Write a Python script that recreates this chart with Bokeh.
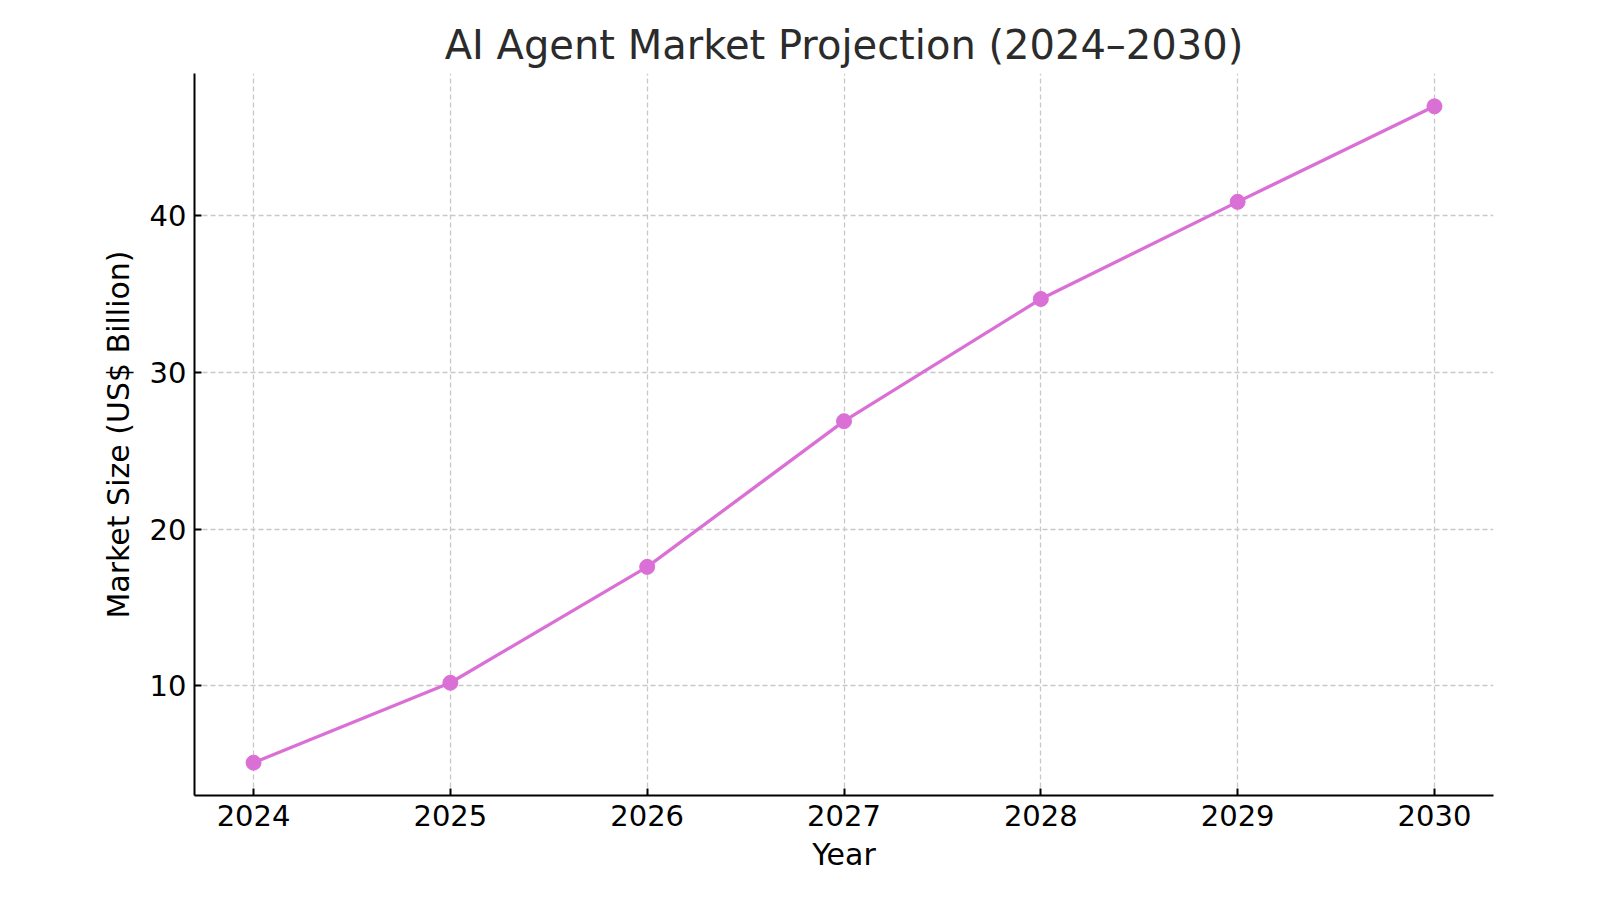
from bokeh.plotting import figure
from bokeh.models import Range1d, FixedTicker, ColumnDataSource
from bokeh.embed import file_html
from bokeh.resources import INLINE

years = [2024, 2025, 2026, 2027, 2028, 2029, 2030]
market_size = [5.1, 10.2, 17.6, 26.9, 34.7, 40.9, 47.0]
y_ticks = [10, 20, 30, 40]

title_text = "AI Agent Market Projection (2024\u20132030)"
x_label = "Year"
y_label = "Market Size (US$ Billion)"

FONT = "DejaVu Sans"
LINE_COLOR = "#DA70D6"

source = ColumnDataSource(data=dict(year=years, value=market_size))

ymin, ymax = min(market_size), max(market_size)
ypad = (ymax - ymin) * 0.05
xpad = (max(years) - min(years)) * 0.05

p = figure(
    width=1600, height=900,
    output_backend="svg", toolbar_location=None,
    x_range=Range1d(min(years) - xpad, max(years) + xpad),
    y_range=Range1d(ymin - ypad, ymax + ypad),
    min_border_left=194, min_border_right=107,
    min_border_top=73, min_border_bottom=105,
    title=title_text,
)
p.background_fill_color = "white"
p.border_fill_color = "white"
p.outline_line_color = None

p.title.align = "center"
p.title.text_font = FONT
p.title.text_font_size = "40px"
p.title.text_font_style = "normal"
p.title.text_color = "#2b2b2b"
p.title.standoff = 11

p.line("year", "value", source=source, line_color=LINE_COLOR, line_width=3.3)
p.scatter("year", "value", source=source, size=15, fill_color=LINE_COLOR,
          line_color=LINE_COLOR, marker="circle")

for ax in (p.xaxis[0], p.yaxis[0]):
    ax.axis_line_color = "black"
    ax.axis_line_width = 2
    ax.major_tick_line_color = "black"
    ax.major_tick_line_width = 2
    ax.major_tick_in = 7
    ax.major_tick_out = 0
    ax.minor_tick_line_color = None
    ax.major_label_text_font = FONT
    ax.major_label_text_font_size = "29px"
    ax.major_label_text_color = "black"
    ax.axis_label_text_font = FONT
    ax.axis_label_text_font_size = "30px"
    ax.axis_label_text_font_style = "normal"
    ax.axis_label_text_color = "black"

p.xaxis[0].ticker = FixedTicker(ticks=years)
p.yaxis[0].ticker = FixedTicker(ticks=y_ticks)
p.xaxis[0].axis_label = x_label
p.yaxis[0].axis_label = y_label
p.xaxis[0].major_label_standoff = 9
p.yaxis[0].major_label_standoff = 8
p.xaxis[0].axis_label_standoff = 8
p.yaxis[0].axis_label_standoff = 11

for g in (p.xgrid[0], p.ygrid[0]):
    g.grid_line_color = "#c8c8c8"
    g.grid_line_width = 1.3
    g.grid_line_dash = "5 3"

open("out.html", "w").write(file_html(p, INLINE))
